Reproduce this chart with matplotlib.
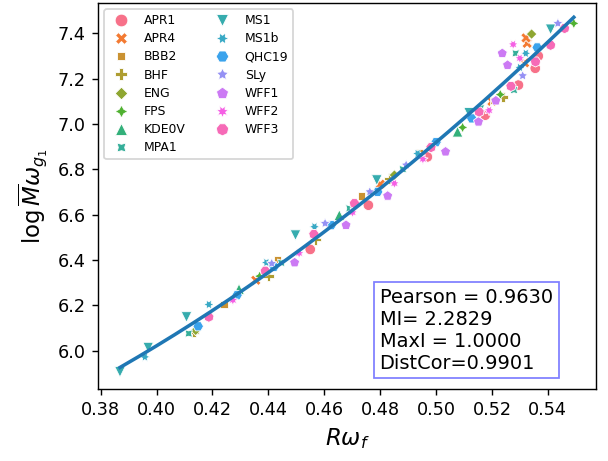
import numpy as np
import matplotlib
matplotlib.use("Agg")
import matplotlib.pyplot as plt
import pandas as pd
import seaborn as sns

# (R*omega_f, log Mbar*omega_g1) per EOS
apr1 = [[0.4550, 0.4758, 0.4969, 0.5176, 0.5295, 0.5355, 0.5366],
        [6.447, 6.642, 6.855, 7.039, 7.172, 7.246, 7.300]]
apr4 = [[0.4355, 0.4800, 0.5200, 0.5317, 0.5326, 0.5322],
        [6.311, 6.735, 7.100, 7.270, 7.356, 7.380]]
bbb2 = [[0.4241, 0.4432, 0.4734, 0.4940, 0.5205],
        [6.205, 6.403, 6.682, 6.872, 7.105]]
bhf = [[0.4134, 0.4400, 0.4569, 0.4833, 0.5240],
       [6.082, 6.330, 6.490, 6.760, 7.120]]
eng = [[0.4140, 0.4851, 0.5342],
       [6.090, 6.775, 7.397]]
fps = [[0.4369, 0.5095, 0.5230, 0.5493],
       [6.329, 6.985, 7.130, 7.444]]
kde0v = [[0.4295, 0.4654, 0.5077],
         [6.272, 6.598, 6.966]]
mpa1 = [[0.4115, 0.4446, 0.4690, 0.4881, 0.5160, 0.5279, 0.5285],
        [6.076, 6.388, 6.628, 6.801, 7.070, 7.150, 7.312]]
ms1 = [[0.3869, 0.3970, 0.4107, 0.4497, 0.4788, 0.5118, 0.5410],
       [5.907, 6.014, 6.149, 6.510, 6.753, 7.050, 7.418]]
ms1b = [[0.3958, 0.4187, 0.4393, 0.4565, 0.4934, 0.5321, 0.5300],
        [5.973, 6.204, 6.389, 6.547, 6.870, 7.312, 7.250]]
qhc19 = [[0.4149, 0.4288, 0.4420, 0.4625, 0.4791, 0.5000, 0.5128, 0.5362],
         [6.108, 6.245, 6.370, 6.554, 6.701, 6.920, 7.025, 7.338]]
sly = [[0.4412, 0.4603, 0.4763, 0.4893, 0.5310, 0.5436],
       [6.385, 6.562, 6.701, 6.819, 7.213, 7.444]]
wff1 = [[0.4494, 0.4678, 0.4827, 0.5034, 0.5152, 0.5214, 0.5256, 0.5237],
        [6.389, 6.554, 6.683, 6.878, 7.010, 7.103, 7.260, 7.312]]
wff2 = [[0.4273, 0.4510, 0.4701, 0.4851, 0.4953, 0.5190, 0.5276, 0.5300],
        [6.223, 6.430, 6.610, 6.738, 6.845, 7.060, 7.351, 7.290]]
wff3 = [[0.4187, 0.4389, 0.4563, 0.4708, 0.4982, 0.5154, 0.5268, 0.5356, 0.5410, 0.5460],
        [6.149, 6.352, 6.514, 6.650, 6.897, 7.054, 7.167, 7.275, 7.348, 7.422]]

eos_names = ['APR1', 'APR4', 'BBB2', 'BHF', 'ENG', 'FPS', 'KDE0V', 'MPA1',
             'MS1', 'MS1b', 'QHC19', 'SLy', 'WFF1', 'WFF2', 'WFF3']
eos_data = [apr1, apr4, bbb2, bhf, eng, fps, kde0v, mpa1,
            ms1, ms1b, qhc19, sly, wff1, wff2, wff3]

stats_text = "Pearson = 0.9630\nMI= 2.2829\nMaxI = 1.0000\nDistCor=0.9901"

rows = []
for name, (xs, ys) in zip(eos_names, eos_data):
    for xv, yv in zip(xs, ys):
        rows.append({'x': xv, 'y': yv, 'EOS': name})
df = pd.DataFrame(rows)

fig = plt.figure(figsize=(608 / 127, 461 / 127), dpi=127)
ax = fig.add_axes([0.161, 0.156, 0.820, 0.8375])

sns.scatterplot(data=df, x='x', y='y', hue='EOS', style='EOS', ax=ax)

# quadratic fit of the points
coef = np.polyfit(df['x'], df['y'], 2)
xx = np.linspace(df['x'].min(), df['x'].max(), 200)
ax.plot(xx, np.polyval(coef, xx), color='C0', lw=2)

ax.set_xlim(0.379, 0.5574)
ax.set_ylim(5.831, 7.534)
ax.set_xticks([0.38, 0.40, 0.42, 0.44, 0.46, 0.48, 0.50, 0.52, 0.54])
ax.set_xlabel(r'$R\omega_f$', fontsize=13)
ax.set_ylabel(r'$\log\overline{M}\omega_{g_1}$', fontsize=13)

ax.legend(ncol=2, fontsize=7, loc='upper left', labelspacing=0.42, markerscale=1.2)

ax.text(0.565, 0.0425, stats_text, transform=ax.transAxes, fontsize=11,
        ha='left', va='bottom', linespacing=1.2,
        bbox=dict(boxstyle='square,pad=0.3', facecolor='white', edgecolor='blue', alpha=0.5))

fig.savefig('out.png', dpi=127)
